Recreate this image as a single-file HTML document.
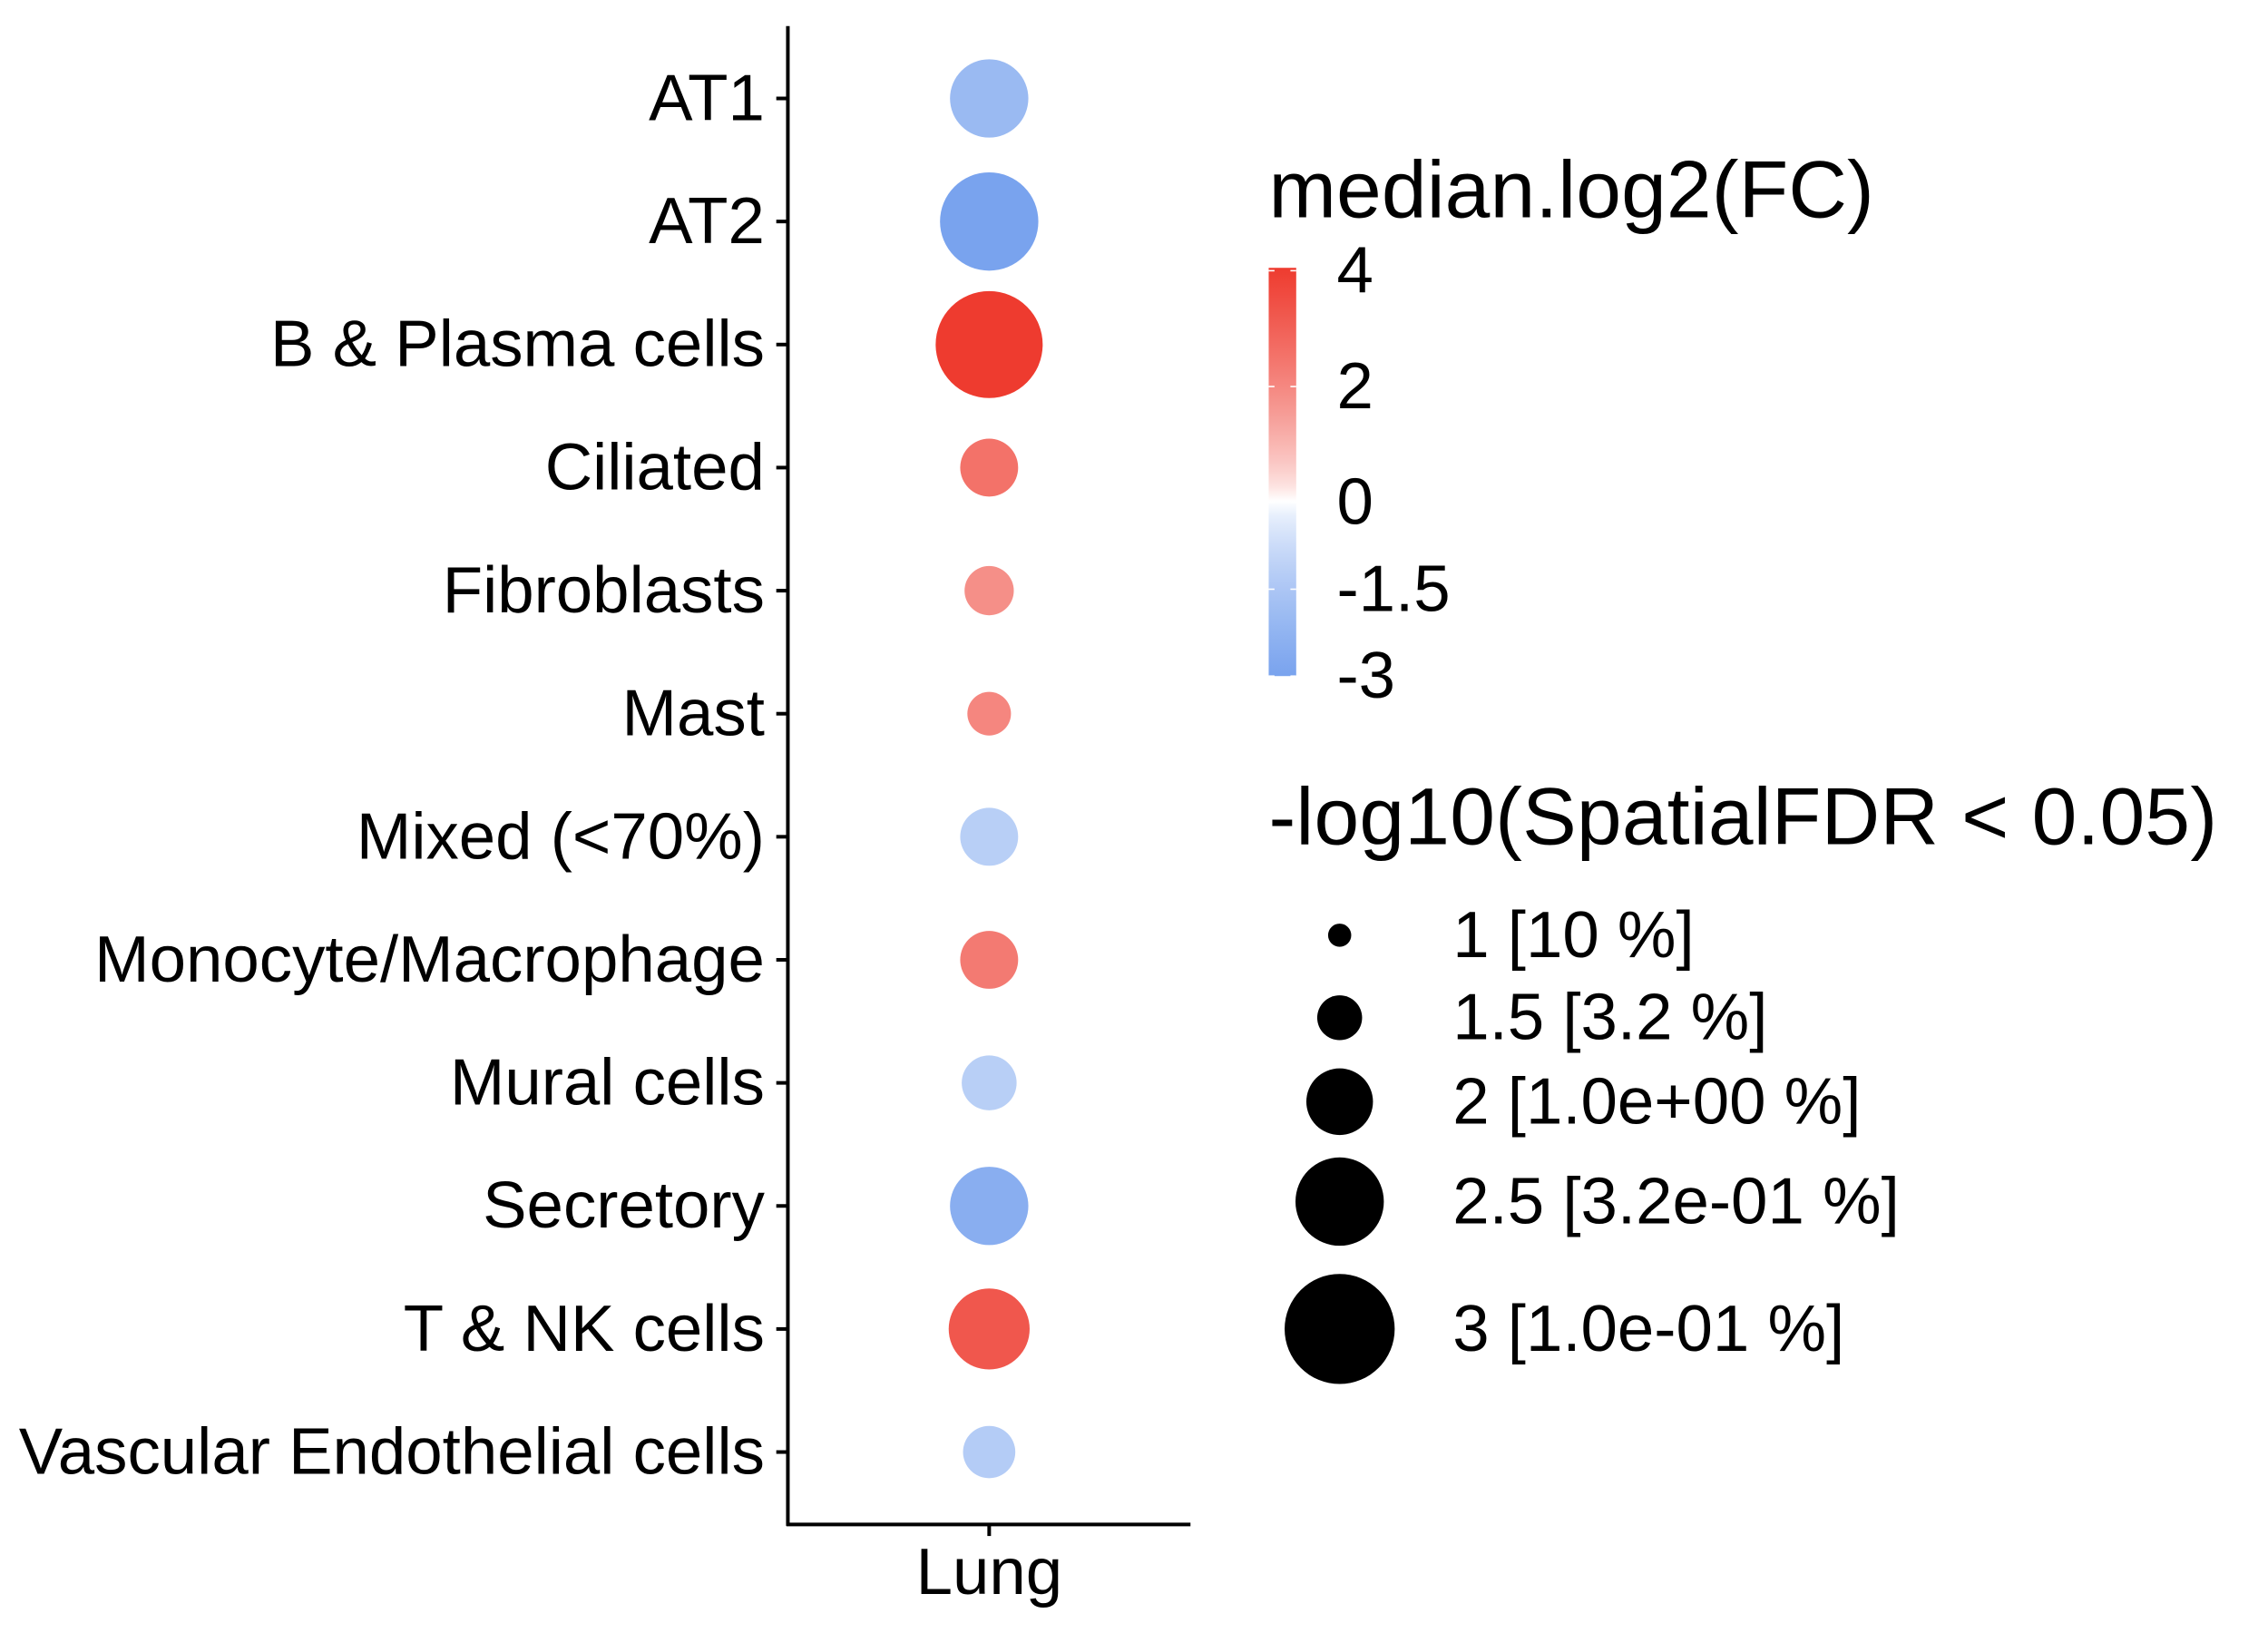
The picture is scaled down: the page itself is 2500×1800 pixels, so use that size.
<!DOCTYPE html>
<html><head><meta charset="utf-8"><style>html,body{margin:0;padding:0;background:#fff}svg{display:block}text{font-family:"Liberation Sans",Arial,sans-serif;fill:#000}</style></head>
<body>
<svg id="chart" width="2500" height="1800" viewBox="0 0 1566 1128" preserveAspectRatio="none" xmlns="http://www.w3.org/2000/svg">
<defs><linearGradient id="cg" x1="0" y1="1" x2="0" y2="0"></linearGradient></defs>
<g id="plot"></g>
<line x1="544" y1="18" x2="544" y2="1054" stroke="#000" stroke-width="2.5"/>
<line x1="543" y1="1053" x2="822" y2="1053" stroke="#000" stroke-width="2.5"/>
<line x1="683" y1="1053" x2="683" y2="1061" stroke="#000" stroke-width="2.5"/>
<text x="683" y="1101" font-size="45.5" text-anchor="middle">Lung</text>
<text x="876" y="150" font-size="56" textLength="418">median.log2(FC)</text>
<rect x="876" y="185" width="19" height="282" fill="url(#cg)"/>
<g id="cbticks"></g>
<text x="876" y="583" font-size="56" textLength="655">-log10(SpatialFDR &lt; 0.05)</text>
<g id="sizeleg"></g>
</svg>
<script>
const categories=["AT1","AT2","B & Plasma cells","Ciliated","Fibroblasts","Mast","Mixed (<70%)","Monocyte/Macrophage","Mural cells","Secretory","T & NK cells","Vascular Endothelial cells"];
const fcValues=[-2,-3,4,2.5,1.8,2,-1.2,2.3,-1.2,-2.5,3.2,-1.3];
const fdrValues=[2.27,2.73,2.93,1.8,1.6,1.47,1.8,1.8,1.73,2.27,2.33,1.67];
const cbTicks=[4,2,0,-1.5,-3];
const sizeTicks=[1,1.5,2,2.5,3];
const sizeLabels=["1 [10 %]","1.5 [3.2 %]","2 [1.0e+00 %]","2.5 [3.2e-01 %]","3 [1.0e-01 %]"];
const sizeY=[646,703,761,830,918];
const NS="http://www.w3.org/2000/svg";
function yScale(i){return 68+85*i;}
function rScale(v){return 8+15*(v-1);}
function cbY(v){return 187+(4-v)*40;}
function mix(a,b,t){return a.map((x,i)=>Math.round(x+(b[i]-x)*t));}
function color(v){const w=[255,255,255];let c=v>=0?mix(w,[238,59,47],Math.pow(Math.min(v/4,1),0.7)):mix(w,[121,163,238],Math.pow(Math.min(-v/3,1),0.7));return "rgb("+c.join(",")+")";}
function mk(t,a,p){const e=document.createElementNS(NS,t);for(const k in a)e.setAttribute(k,a[k]);p.appendChild(e);return e;}
const grad=document.getElementById("cg");
for(let k=0;k<=28;k++){const v=-3+k*0.25;mk("stop",{offset:(v+3)/7,"stop-color":color(v)},grad);}
const plot=document.getElementById("plot");
categories.forEach((c,i)=>{const y=yScale(i);
const tk=mk("line",{x1:536,x2:544,y1:y,y2:y,stroke:"#000","stroke-width":2.5},plot);


const t=mk("text",{x:528,y:y+15,"font-size":45.5,"text-anchor":"end"},plot);t.textContent=c;


const d=mk("circle",{cx:683,cy:y,r:rScale(fdrValues[i]),fill:color(fcValues[i])},plot);


});
const cb=document.getElementById("cbticks");
cbTicks.forEach(v=>{const t=mk("text",{x:923,y:cbY(v)+15,"font-size":45.5},cb);t.textContent=String(v);


mk("line",{x1:876,x2:880,y1:cbY(v),y2:cbY(v),stroke:"#fff","stroke-width":1},cb);
mk("line",{x1:891,x2:895,y1:cbY(v),y2:cbY(v),stroke:"#fff","stroke-width":1},cb);});
const sl=document.getElementById("sizeleg");
sizeTicks.forEach((v,i)=>{const c=mk("circle",{cx:925,cy:sizeY[i],r:rScale(v),fill:"#000"},sl);


const t=mk("text",{x:1003,y:sizeY[i]+15,"font-size":45.5},sl);t.textContent=sizeLabels[i];

});
</script>
</body></html>
